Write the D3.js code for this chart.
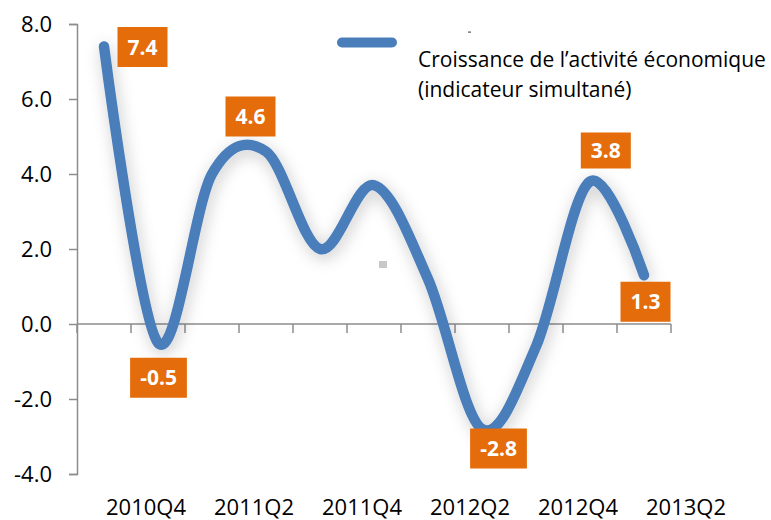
<!DOCTYPE html>
<html>
<head>
<meta charset="utf-8">
<script src="https://cdn.jsdelivr.net/npm/d3@7"></script>
<style>
  body { margin: 0; background: #fff; }
  svg text { font-family: "Open Sans", "Noto Sans", sans-serif; }
</style>
</head>
<body>
<svg id="chart"></svg>
<script>
// quarterly growth, data points
var quarters = ["2010Q3", "2010Q4", "2011Q1", "2011Q2", "2011Q3", "2011Q4",
                "2012Q1", "2012Q2", "2012Q3", "2012Q4", "2013Q1"];
var growth = [7.4, -0.5, 4.0, 4.6, 2.0, 3.7, 1.2, -2.8, -0.6, 3.8, 1.3];
var tickLabels = ["2010Q4", "2011Q2", "2011Q4", "2012Q2", "2012Q4", "2013Q2"];
var yTicks = [-4, -2, 0, 2, 4, 6, 8];
var seriesName = ["Croissance de l\u2019activit\u00e9 \u00e9conomique", "(indicateur simultan\u00e9)"];
// which points get a value box
var labelled = [0, 1, 3, 7, 9, 10];

var width = 771, height = 520;
var blue = "#4a7ebb", orange = "#e46c0a", axisCol = "#8c8c8c";

var svg = d3.select("#chart")
    .attr("width", width)
    .attr("height", height);

var x = d3.scaleBand()
    .domain(quarters)
    .range([77, 671])
    .padding(0);

var y = d3.scaleLinear()
    .domain([-4, 8])
    .range([474, 24]);

function px(i) { return x(quarters[i]) + x.bandwidth() / 2; }

var defs = svg.append("defs");
var f = defs.append("filter")
    .attr("id", "shadow")
    .attr("x", "-20%").attr("y", "-20%")
    .attr("width", "140%").attr("height", "140%");
f.append("feDropShadow")
    .attr("dx", 2)
    .attr("dy", 4)
    .attr("stdDeviation", 8)
    .attr("flood-color", "#000")
    .attr("flood-opacity", 0.22);

// y axis
var yAxis = d3.axisLeft(y)
    .tickValues(yTicks)
    .tickSize(8)
    .tickPadding(17)
    .tickFormat(function (d) { return d.toFixed(1); });

var gy = svg.append("g")
    .attr("transform", "translate(77,0)")
    .call(yAxis);
gy.select(".domain").attr("stroke", axisCol).attr("stroke-width", 1.5);
gy.selectAll(".tick line").attr("stroke", axisCol).attr("stroke-width", 1.5);
gy.selectAll(".tick text")
    .attr("fill", "#000")
    .style("font-size", "22px")
    .style("font-family", "'Open Sans', sans-serif");

// x axis along zero
var x0 = x.range()[0], x1 = x.range()[1];
svg.append("line")
    .attr("x1", x0).attr("x2", x1)
    .attr("y1", y(0)).attr("y2", y(0))
    .attr("stroke", axisCol)
    .attr("stroke-width", 1.5);

var tickPos = quarters.map(function (q) { return x(q); }).concat([x1]);
svg.append("g").selectAll("line")
    .data(tickPos)
    .enter().append("line")
    .attr("x1", function (d) { return d; })
    .attr("x2", function (d) { return d; })
    .attr("y1", y(0))
    .attr("y2", y(0) + 9)
    .attr("stroke", axisCol)
    .attr("stroke-width", 1.5);

svg.append("g").selectAll("text")
    .data(tickLabels)
    .enter().append("text")
    .attr("x", function (d, k) { return x0 + x.step() * (2 * k + 1.5) - 12; })
    .attr("y", 515)
    .attr("text-anchor", "middle")
    .style("font-size", "22px")
    .text(function (d) { return d; });

// smoothed line
var line = d3.line()
    .x(function (d, i) { return px(i); })
    .y(function (d) { return y(d); })
    .curve(d3.curveCardinal.tension(0));

svg.append("path")
    .datum(growth)
    .attr("d", line)
    .attr("fill", "none")
    .attr("stroke", blue)
    .attr("stroke-width", 10.5)
    .attr("stroke-linecap", "round")
    .attr("stroke-linejoin", "round")
    .attr("filter", "url(#shadow)");

// small stray marks
svg.append("rect")
    .attr("x", 379).attr("y", 261)
    .attr("width", 8).attr("height", 7)
    .attr("fill", "#c8c8c8");
svg.append("rect")
    .attr("x", 468).attr("y", 31.5)
    .attr("width", 3).attr("height", 1.2)
    .attr("fill", "#555");

// value boxes: offset from the point and box height
var offsets = {
    0: [38.5, 0.5, 40], 1: [0.5, 35, 40], 3: [-15.5, -35, 40],
    7: [16.5, 19.5, 40], 9: [15.8, -31, 36], 10: [1.5, 26.5, 40]
};

var boxes = svg.append("g").selectAll("g")
    .data(labelled)
    .enter().append("g")
    .attr("transform", function (i) {
        return "translate(" + (px(i) + offsets[i][0]) + "," + (y(growth[i]) + offsets[i][1]) + ")";
    });

boxes.append("text")
    .attr("text-anchor", "middle")
    .attr("dy", "0.36em")
    .attr("fill", "#fff")
    .style("font-size", "21px")
    .style("font-weight", "bold")
    .text(function (i) { return growth[i].toFixed(1); });

boxes.each(function (i) {
    var g = d3.select(this);
    var bb = g.select("text").node().getBBox();
    var h = offsets[i][2];
    g.insert("rect", "text")
        .attr("x", -(bb.width + 20) / 2)
        .attr("y", -h / 2)
        .attr("width", bb.width + 20)
        .attr("height", h)
        .attr("fill", orange);
});

// legend
svg.append("line")
    .attr("x1", 342).attr("x2", 392)
    .attr("y1", 42.5).attr("y2", 42.5)
    .attr("stroke", blue)
    .attr("stroke-width", 10)
    .attr("stroke-linecap", "round");

svg.append("g").selectAll("text")
    .data(seriesName)
    .enter().append("text")
    .attr("x", 418)
    .attr("y", function (d, i) { return 66.5 + i * 30; })
    .style("font-size", "21px")
    .text(function (d) { return d; });
</script>
</body>
</html>
